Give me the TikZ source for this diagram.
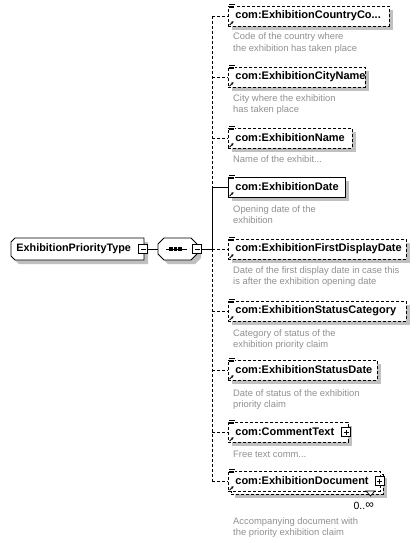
\documentclass[tikz,border=0pt]{standalone}
\usepackage{fontspec}
\setmainfont{Liberation Sans}
\usetikzlibrary{shadows,arrows.meta}
\definecolor{descgray}{RGB}{145,145,145}
\definecolor{shadowgray}{RGB}{192,192,192}
\begin{document}
\begin{tikzpicture}[x=1pt,y=-1pt,
  basebox/.style={draw=black, fill=white, line width=0.8pt, minimum height=20pt,
    inner xsep=7pt, inner ysep=0pt, anchor=west, align=left,
    font=\bfseries\fontsize{11}{13}\selectfont},
  shbox/.style={basebox, drop shadow={shadow xshift=4pt, shadow yshift=-4pt, fill=shadowgray, opacity=1, draw=none}},
  optbox/.style={shbox, dash pattern=on 3pt off 2pt},
  reqbox/.style={shbox},
  desc/.style={anchor=base west, inner sep=0pt, align=left, text=descgray,
    font=\fontsize{9.4}{11.5}\selectfont},
  optline/.style={line width=0.8pt, dash pattern=on 3pt off 2pt},
  reqline/.style={line width=0.8pt},
  outline/.style={draw=black, fill=white, line width=0.8pt},
  pmbox/.style={draw=black, fill=white, line width=0.7pt, minimum size=9pt, inner sep=0pt},
  minusbox/.style={pmbox, path picture={\draw[line width=0.7pt] ([xshift=-2.5pt]path picture bounding box.center) -- ([xshift=2.5pt]path picture bounding box.center);}},
  plusbox/.style={pmbox, path picture={\draw[line width=0.7pt] ([xshift=-2.5pt]path picture bounding box.center) -- ([xshift=2.5pt]path picture bounding box.center) ([yshift=-2.5pt]path picture bounding box.center) -- ([yshift=2.5pt]path picture bounding box.center);}},
  docicon/.pic={\fill[white] (0.5,-2.2) rectangle (6.8,2.8);
    \draw[line width=0.6pt] (1,-1.4) -- (6.5,-1.4) (1,0.3) -- (6,0.3) (1,2) -- (6,2);},
  refarrow/.pic={\draw[line width=0.8pt, -{Stealth[length=2.6pt,width=2.8pt]}] (1.5,-1.2) -- (5.5,-5.2);}
]
\useasboundingbox (0,0) rectangle (419,543);
\fill[white] (0,0) rectangle (419,543);

% root
\begin{scope}[shift={(4,4)}]
\fill[shadowgray] (15,238) -- (144,238) -- (144,260) -- (15,260) -- (11,256) -- (11,242) -- cycle;
\end{scope}
\draw[outline] (15,238) -- (144,238) -- (144,260) -- (15,260) -- (11,256) -- (11,242) -- cycle;
\node[inner sep=0pt, minimum width=133pt, minimum height=22pt, anchor=west,
  font=\bfseries\fontsize{10.8}{13}\selectfont] (root) at (11,249) {\hspace*{-8pt}ExhibitionPriorityType};
\node[minusbox] (rootm) at (143,249) {};

% sequence compositor
\begin{scope}[shift={(4,4)}]
\fill[shadowgray] (164,238) -- (191,238) -- (197,244) -- (197,254) -- (191,260) -- (164,260) -- (158,254) -- (158,244) -- cycle;
\end{scope}
\draw[outline] (164,238) -- (191,238) -- (197,244) -- (197,254) -- (191,260) -- (164,260) -- (158,254) -- (158,244) -- cycle;
\node[inner sep=0pt, minimum width=39pt, minimum height=22pt, anchor=west] (seq) at (158,249) {};
\draw[line width=1pt] (166,249) -- (187,249);
\foreach \dx in {171,175.5,180} \fill (\dx-1.6,247.4) rectangle (\dx+1.6,250.6);
\node[minusbox] (seqm) at (197,249) {};

\draw[reqline] (rootm.east) -- (seq.west);

% junctions
\coordinate (j1) at (212,16);
\coordinate (j2) at (212,77);
\coordinate (j3) at (212,138);
\coordinate (j4) at (212,187);
\coordinate (j5) at (212,249);
\coordinate (j6) at (212,311);
\coordinate (j7) at (212,370);
\coordinate (j8) at (212,432);
\coordinate (j9) at (212,481);

\draw[reqline] (seqm.east) -- (j5);
\draw[optline] (j1) -- (j4);
\draw[reqline] (j4) -- (j5);
\draw[optline] (j5) -- (j9);

% children
\node[optbox, text width=147pt] (c1) at (228,16) {com:ExhibitionCountryCo...};
\node[optbox, text width=123pt] (c2) at (228,77) {com:ExhibitionCityName};
\node[optbox, text width=110pt] (c3) at (228,138) {com:ExhibitionName};
\node[reqbox, text width=103pt] (c4) at (228,187) {com:ExhibitionDate};
\node[optbox, text width=164pt] (c5) at (228,249) {com:ExhibitionFirstDisplayDate};
\node[optbox, text width=164pt] (c6) at (228,311) {com:ExhibitionStatusCategory};
\node[optbox, text width=135pt] (c7) at (228,370) {com:ExhibitionStatusDate};
\node[optbox, text width=106pt] (c8) at (228,432) {com:CommentText};
\node[optbox, text width=138pt] (c9b) at (231,484) {};
\node[basebox, dash pattern=on 3pt off 2pt, text width=138pt] (c9) at (228,481) {com:ExhibitionDocument};

\node[plusbox] (p8) at (346,432) {};
\node[plusbox] (p9) at (379.5,481) {};
\draw[line width=0.7pt, fill=white] (366,491) -- (375,491) -- (370.5,496) -- cycle;

\foreach \i in {1,...,8} {\draw[optline] (j\i) -- (c\i.west);}
\draw[reqline] (j4) -- (c4.west);
\draw[optline] (j9) -- (c9.west);

\foreach \n in {c1,c2,c3,c4,c5,c6,c7,c8,c9} {
  \pic at (\n.north west) {docicon};
  \pic at (\n.south west) {refarrow};
}

\node[anchor=base east, inner sep=0pt, font=\fontsize{10.5}{12}\selectfont] (occ) at (374,509) {0..\raisebox{0.3pt}{\fontsize{12}{12}\selectfont ∞}};

% descriptions (base anchor = last line baseline)
\node[desc] (d1) at (233,51.5) {Code of the country where\\the exhibition has taken place};
\node[desc] (d2) at (233,112.5) {City where the exhibition\\has taken place};
\node[desc] (d3) at (233,162) {Name of the exhibit...};
\node[desc] (d4) at (233,223.5) {Opening date of the\\exhibition};
\node[desc] (d5) at (233,284.5) {Date of the first display date in case this\\is after the exhibition opening date};
\node[desc] (d6) at (233,347.5) {Category of status of the\\exhibition priority claim};
\node[desc] (d7) at (233,407.5) {Date of status of the exhibition\\priority claim};
\node[desc] (d8) at (233,457) {Free text comm...};
\node[desc] (d9) at (233,535.5) {Accompanying document with\\the priority exhibition claim};
\end{tikzpicture}
\end{document}
